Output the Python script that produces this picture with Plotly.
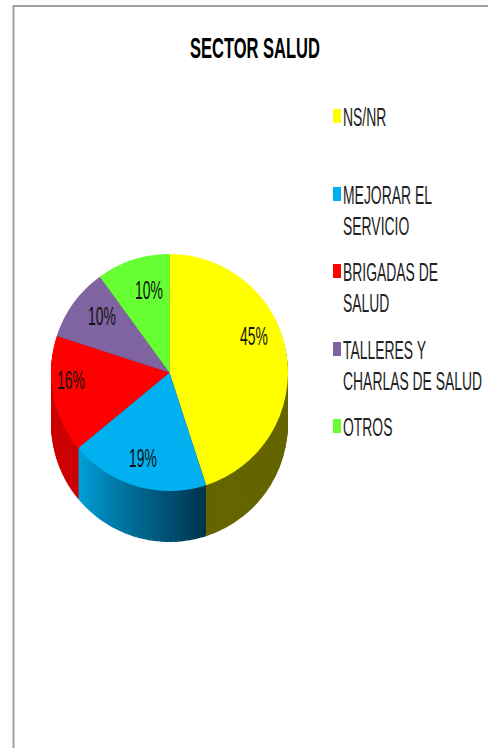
import plotly.graph_objects as go

W, H = 488, 748

title = "SECTOR SALUD"
categories = ["NS/NR", "MEJORAR EL|SERVICIO", "BRIGADAS DE|SALUD", "TALLERES Y|CHARLAS DE SALUD", "OTROS"]
values = [45, 19, 16, 10, 10]

top_colors = ["#FFFF00", "#00B0F0", "#FF0000", "#8064A2", "#66FF33"]
side_colors = ["#666600", None, "#CC0000", "#4D3C62", "#3D991F"]
blue_from, blue_to = (0, 160, 215), (0, 52, 78)

cx, cy, r, depth = 169.5, 372.5, 118.5, 51
legend_y = [117, 195, 272, 350, 427]
line_gap = 31
pct_pos = [(254, 336), (143, 458), (71, 380), (102, 316), (149, 290)]
N_SHADE = 30


def px(x):
    return x / W


def py(y):
    return 1 - y / H


def domain(dy):
    return dict(x=[px(cx - r), px(cx + r)], y=[py(cy + r + dy), py(cy - r + dy)])


side_vals, side_cols = [], []
for i, v in enumerate(values):
    if side_colors[i] is not None:
        side_vals.append(v)
        side_cols.append(side_colors[i])
    else:
        for k in range(N_SHADE):
            t = k / (N_SHADE - 1)
            side_vals.append(v / N_SHADE)
            c = [round(blue_to[j] + (blue_from[j] - blue_to[j]) * t) for j in range(3)]
            side_cols.append(f"rgb({c[0]},{c[1]},{c[2]})")

fig = go.Figure()
common = dict(sort=False, direction="clockwise", rotation=0, textinfo="none",
              showlegend=False, hoverinfo="skip")
for dy in range(depth, 0, -1):
    fig.add_trace(go.Pie(values=side_vals, marker=dict(colors=side_cols, line=dict(width=0)),
                         domain=domain(dy), **common))
fig.add_trace(go.Pie(labels=[c.replace("|", " ") for c in categories], values=values,
                     marker=dict(colors=top_colors, line=dict(width=0)),
                     domain=domain(0), **common))

annotations, shapes = [], []
font = "Liberation Sans"
for v, (x, y) in zip(values, pct_pos):
    annotations.append(dict(text=f"{v}%", x=px(x), y=py(y), xref="paper", yref="paper",
                            xanchor="center", yanchor="middle", showarrow=False,
                            font=dict(family=font, size=26, color="#111111")))
for cat, col, y in zip(categories, top_colors, legend_y):
    shapes.append(dict(type="rect", xref="paper", yref="paper", x0=px(333), x1=px(341),
                       y0=py(y - 8), y1=py(y + 6), fillcolor=col, line=dict(width=0)))
    for n, line in enumerate(cat.split("|")):
        annotations.append(dict(text=line, x=px(341), y=py(y + n * line_gap), xref="paper", yref="paper",
                                xanchor="left", yanchor="middle", showarrow=False,
                                font=dict(family=font, size=26, color="#222222")))

border = "#A0A0A0"
shapes.append(dict(type="line", xref="paper", yref="paper", x0=px(13.5), x1=px(13.5), y0=0, y1=py(5),
                   line=dict(color=border, width=2)))
shapes.append(dict(type="line", xref="paper", yref="paper", x0=px(13), x1=1, y0=py(6), y1=py(6),
                   line=dict(color=border, width=2)))

fig.update_layout(width=W, height=H, margin=dict(l=0, r=0, t=0, b=0),
                  paper_bgcolor="white", plot_bgcolor="white",
                  title=dict(text=f"<b>{title}</b>", x=px(255), y=py(48), xanchor="center", yanchor="middle",
                             font=dict(family=font, size=30, color="black")),
                  annotations=annotations, shapes=shapes)

# The reference's text is squeezed horizontally; keep it real text and squeeze it the same way.
css = ("html,body{margin:0;padding:0;overflow:hidden}"
       ".annotation-text{transform-box:fill-box;transform-origin:left center;transform:scaleX(.535)}"
       ".annotation-text[data-unformatted$=\"%\"]{transform-origin:center}"
       ".gtitle{transform-box:fill-box;transform-origin:center;transform:scaleX(.55)}")
post = f"var s=document.createElement('style');s.textContent='{css}';document.head.appendChild(s);"
fig.write_html("out.html", post_script=post, config=dict(displayModeBar=False))
